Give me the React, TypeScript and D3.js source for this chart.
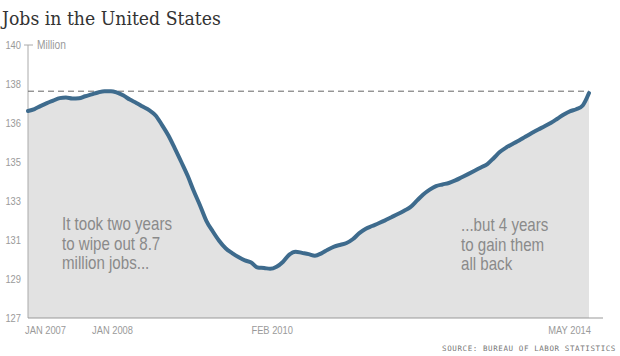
import React from "react";
import * as d3 from "d3";

// ---- Data ----
const startMonth = new Date(2007, 0, 1);
// Total nonfarm jobs (millions), monthly Jan 2007 – May 2014
const jobs = [
  136.86, 136.95, 137.09, 137.23, 137.35, 137.47, 137.5, 137.45, 137.46, 137.56, 137.65, 137.74,
  137.8, 137.8, 137.73, 137.59, 137.4, 137.24, 137.07, 136.9, 136.64, 136.2, 135.69, 135.09,
  134.44, 133.77, 133.07, 132.36, 131.63, 131.12, 130.68, 130.32, 130.09, 129.9, 129.74, 129.64,
  129.4, 129.38, 129.34, 129.44, 129.67, 130.02, 130.16, 130.1, 130.04, 129.97, 130.08, 130.25,
  130.4, 130.49, 130.57, 130.76, 131.04, 131.25, 131.38, 131.51, 131.65, 131.8, 131.95, 132.11,
  132.29, 132.6, 132.88, 133.11, 133.28, 133.36, 133.43, 133.55, 133.7, 133.85, 134.01, 134.17,
  134.33, 134.62, 134.9, 135.12, 135.29, 135.45, 135.63, 135.81, 135.98, 136.13, 136.3, 136.49,
  136.69, 136.85, 136.94, 137.12, 137.71,
];
const xLabels = ["JAN 2007", "JAN 2008", "FEB 2010", "MAY 2014"];
const xLabelDates = [new Date(2007, 0, 1), new Date(2008, 0, 1), new Date(2010, 1, 1), new Date(2014, 4, 1)];
const yTickLabels = ["127", "129", "131", "133", "135", "136", "138", "140"];
const yDomain = [127, 140];
const title = "Jobs in the United States";
const unitLabel = "Million";
const noteLeft = ["It took two years", "to wipe out 8.7", "million jobs..."];
const noteRight = ["...but 4 years", "to gain them", "all back"];
const source = "SOURCE: BUREAU OF LABOR STATISTICS";

const W = 620;
const H = 356;
const condensed = "'Liberation Sans Narrow', 'Liberation Sans', 'Roboto', sans-serif";

function CText({
  x,
  y,
  sx = 0.84,
  anchor = "start",
  size,
  fill,
  dy,
  family = condensed,
  children,
}: {
  x: number;
  y: number;
  sx?: number;
  anchor?: string;
  size: number;
  fill: string;
  dy?: string;
  family?: string;
  children: React.ReactNode;
}) {
  return (
    <text
      transform={`translate(${x},${y}) scale(${sx},1)`}
      textAnchor={anchor as any}
      fontFamily={family}
      fontSize={size}
      fill={fill}
      dy={dy}
    >
      {children}
    </text>
  );
}

export default function App() {
  const data = jobs.map((v, i) => ({ date: d3.timeMonth.offset(startMonth, i), value: v }));
  const x = d3
    .scaleTime()
    .domain([data[0].date, data[data.length - 1].date])
    .range([28, 589]);
  const y = d3.scaleLinear().domain(yDomain).range([318, 45]);

  const line = d3
    .line<{ date: Date; value: number }>()
    .x((d) => x(d.date))
    .y((d) => y(d.value))
    .curve(d3.curveMonotoneX);
  const area = d3
    .area<{ date: Date; value: number }>()
    .x((d) => x(d.date))
    .y0(y(yDomain[0]))
    .y1((d) => y(d.value))
    .curve(d3.curveMonotoneX);

  const n = yTickLabels.length;
  const tickVals = d3.range(n).map((i) => yDomain[0] + ((yDomain[1] - yDomain[0]) * i) / (n - 1));
  const peak = d3.max(jobs) as number;

  return (
    <svg width={W} height={H} style={{ position: "absolute", left: 0, top: 0, background: "#fff" }}>
      <CText x={2} y={25} size={18.5} sx={0.935} fill="#333" family="'DejaVu Serif', 'Liberation Serif', serif">
        {title}
      </CText>

      <path d={area(data) ?? ""} fill="#e2e2e2" />

      {/* axes */}
      <line x1={28} x2={28} y1={y(yDomain[1])} y2={y(yDomain[0])} stroke="#aaa" strokeWidth={1} />
      <line x1={28} x2={603} y1={y(yDomain[0])} y2={y(yDomain[0])} stroke="#999" strokeWidth={1} />
      <line x1={24} x2={33} y1={y(yDomain[1])} y2={y(yDomain[1])} stroke="#aaa" strokeWidth={1} />

      {tickVals.map((t, i) => (
        <CText key={i} x={21} y={y(t)} dy="0.35em" anchor="end" size={11} sx={0.85} fill="#9a9a9a">
          {yTickLabels[i]}
        </CText>
      ))}
      <CText x={37} y={y(yDomain[1])} dy="0.35em" size={12} sx={0.85} fill="#9a9a9a">
        {unitLabel}
      </CText>

      {/* dashed reference at previous peak */}
      <line
        x1={28}
        x2={x(data[data.length - 1].date)}
        y1={y(peak)}
        y2={y(peak)}
        stroke="#666"
        strokeWidth={1}
        strokeDasharray="6,4"
      />

      <path
        d={line(data) ?? ""}
        fill="none"
        stroke="#3e6b8d"
        strokeWidth={4}
        strokeLinejoin="round"
        strokeLinecap="round"
      />

      {xLabels.map((lab, i) => {
        const first = i === 0;
        const last = i === xLabels.length - 1;
        const anchor = first ? "start" : last ? "end" : "middle";
        const dx = first ? -3 : last ? 2 : 8;
        return (
          <CText key={lab} x={x(xLabelDates[i]) + dx} y={334} anchor={anchor} size={11} sx={0.85} fill="#9a9a9a">
            {lab}
          </CText>
        );
      })}

      {noteLeft.map((s, i) => (
        <CText key={s} x={62} y={230 + i * 19.5} size={18} sx={0.84} fill="#8a8a8a">
          {s}
        </CText>
      ))}
      {noteRight.map((s, i) => (
        <CText key={s} x={461} y={231 + i * 19.5} size={18} sx={0.84} fill="#8a8a8a">
          {s}
        </CText>
      ))}

      <text
        x={616}
        y={351}
        textAnchor="end"
        fontFamily="'DejaVu Sans Mono', 'Liberation Mono', monospace"
        fontSize={7.5}
        letterSpacing={0.6}
        fill="#777"
      >
        {source}
      </text>
    </svg>
  );
}
